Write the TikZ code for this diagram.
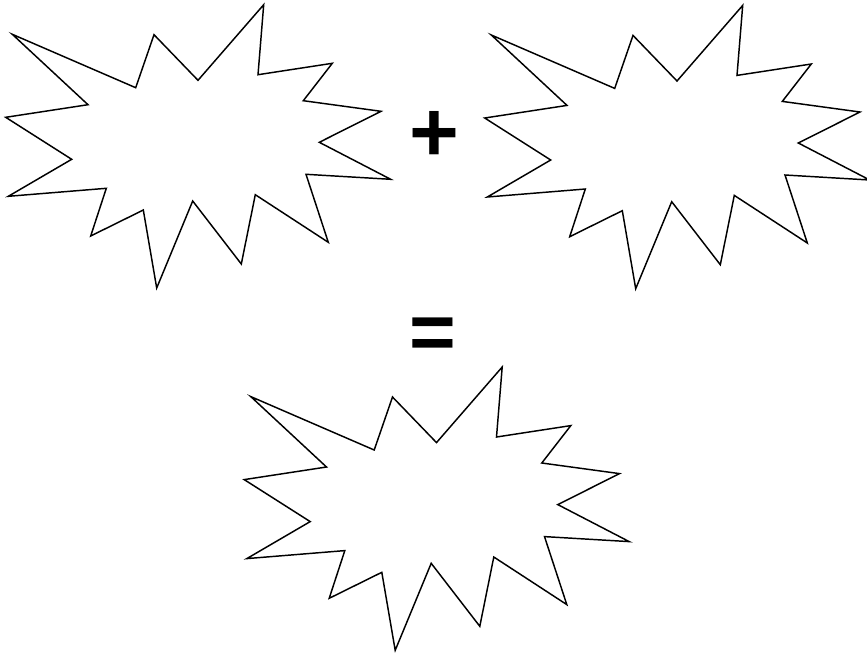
\documentclass[tikz,border=0pt]{standalone}
\usepackage{fontspec}
\setmainfont{Liberation Sans}
\usetikzlibrary{positioning}
\tikzset{
  burstline/.style={draw=black,line width=1.1pt,line join=miter,fill=white},
  sign/.style={inner sep=0pt,anchor=base,font=\fontsize{64}{64}\selectfont\bfseries},
  burst/.pic={
    \draw[burstline] (12.3,34.3) -- (135.7,87.7) -- (154,34.7) -- (198,80.3)
      -- (263.7,4.7) -- (258,74.7) -- (332.3,63.3) -- (303.3,100.7)
      -- (381,111.3) -- (319.3,142.3) -- (390.7,179.3) -- (306,174.3)
      -- (328.3,242.3) -- (255.3,194.7) -- (241.3,264) -- (192.7,201)
      -- (156.7,288) -- (143.3,210) -- (90.7,236) -- (106.3,188.3)
      -- (8.3,196.3) -- (71.7,159.3) -- (5.7,117.3) -- (88,104.7) -- cycle;
  },
}
\begin{document}
\begin{tikzpicture}[x=0.75pt,y=-0.75pt]
  \useasboundingbox (0,0) rectangle (867,654);
  % ===== top row =====
  \pic at (0,0)     {burst};
  \pic at (479,0.7) {burst};
  \node[sign] (plus) at (434.3,161) {+};
  % ===== result =====
  \node[sign,font=\fontsize{60}{60}\selectfont\bfseries] (eq) at (432.7,359) {=};
  \pic at (238.5,362.3) {burst};
\end{tikzpicture}
\end{document}
